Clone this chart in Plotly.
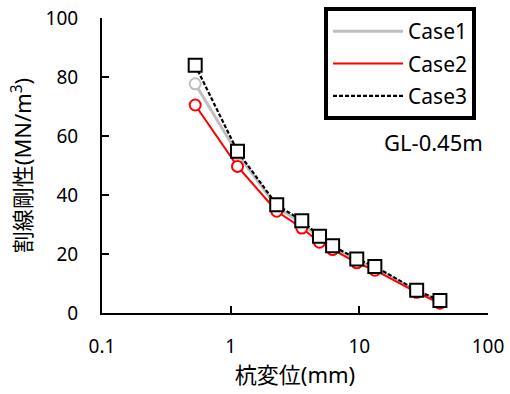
import plotly.graph_objects as go

# Pile displacement (mm) and secant stiffness (MN/m^3) for three cases
displacement = [0.53, 1.13, 2.28, 3.57, 4.9, 6.2, 9.55, 13.2, 27.9, 42.3]
case1 = [77.7, 54.0, 36.0, 30.5, 25.3, 22.3, 17.8, 15.3, 7.4, 4.0]
case2 = [70.5, 49.7, 34.5, 28.8, 24.0, 21.5, 17.0, 14.5, 7.0, 3.3]
case3 = [84.0, 54.8, 36.7, 31.3, 26.0, 22.8, 18.3, 15.8, 7.7, 4.2]

names = ["Case1", "Case2", "Case3"]
x_ticks = [0.1, 1, 10, 100]
x_tick_text = ["0.1", "1", "10", "100"]
y_ticks = [0, 20, 40, 60, 80, 100]

FONT = "Noto Sans, Noto Sans CJK JP, sans-serif"

styles = [
    dict(line=dict(color="#BFBFBF", width=3),
         marker=dict(symbol="circle", size=11, color="white",
                     line=dict(color="#BFBFBF", width=2))),
    dict(line=dict(color="#FF0000", width=2),
         marker=dict(symbol="circle", size=11, color="white",
                     line=dict(color="#FF0000", width=2))),
    dict(line=dict(color="black", width=2.2, dash="4px,2px"),
         marker=dict(symbol="square", size=13, color="white",
                     line=dict(color="black", width=2))),
]

fig = go.Figure()
for name, ys, st in zip(names, [case1, case2, case3], styles):
    fig.add_trace(go.Scatter(x=displacement, y=ys, mode="lines+markers",
                             name=name, showlegend=False,
                             line=st["line"], marker=st["marker"]))
# legend entries show the line style only, one group each for spacing
for name, st in zip(names, styles):
    fig.add_trace(go.Scatter(x=[None], y=[None], mode="lines", name=name,
                             legendgroup=name, line=st["line"], showlegend=True))

fig.add_annotation(text="GL-0.45m", xref="paper", yref="paper",
                   x=0.86, y=0.58, xanchor="center", yanchor="middle",
                   showarrow=False,
                   font=dict(family=FONT, size=22, color="black"))

fig.update_layout(
    width=510, height=394,
    margin=dict(l=102, r=22, t=18, b=81, autoexpand=False),
    paper_bgcolor="white", plot_bgcolor="white",
    font=dict(family=FONT, size=19, color="black"),
    legend=dict(x=0.969, y=1.037, xanchor="right", yanchor="top",
                bordercolor="black", borderwidth=4, bgcolor="white",
                itemwidth=70, font=dict(size=21), tracegroupgap=2),
)
fig.update_xaxes(type="log", range=[-1, 2], tickvals=x_ticks, ticktext=x_tick_text,
                 ticks="inside", ticklen=7, tickwidth=1.5, tickcolor="black",
                 showline=True, linecolor="black", linewidth=2, showgrid=False,
                 zeroline=False, ticklabelstandoff=15,
                 title=dict(text="杭変位(mm)", font=dict(size=22), standoff=4))
fig.update_yaxes(range=[0, 100], tickvals=y_ticks,
                 ticks="inside", ticklen=7, tickwidth=1.5, tickcolor="black",
                 showline=True, linecolor="black", linewidth=2, showgrid=False,
                 zeroline=False, ticklabelstandoff=18,
                 title=dict(text="割線剛性(MN/m<sup>3</sup>)", font=dict(size=22), standoff=8))

fig.write_html("out.html")
